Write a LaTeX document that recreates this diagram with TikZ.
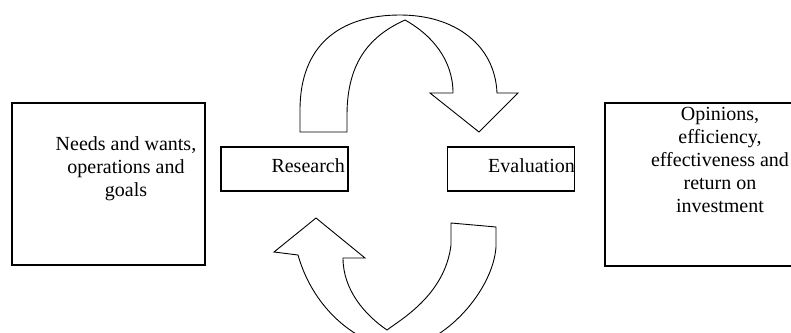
\documentclass[tikz,border=0pt]{standalone}
\usepackage{fontspec}
\setmainfont{Liberation Serif}
\usetikzlibrary{positioning}

\begin{document}
\begin{tikzpicture}[x=1pt, y=-1pt,
  font=\fontsize{20}{23}\selectfont,
  bigbox/.style={draw, line width=1.1pt, minimum width=193pt, minimum height=162pt, inner sep=0pt},
  smallbox/.style={draw, line width=1.1pt, minimum width=127pt, minimum height=44pt, inner sep=0pt},
  txt/.style={inner sep=0pt, align=center},
  bigarrow/.style={draw, fill=white, line width=0.9pt, line join=miter}]
\useasboundingbox (0,0) rectangle (791,332);
\clip (0,0) rectangle (791,332);
% boxes
\node[bigbox] (needs) at (108.5,184) {};
\node[bigbox, minimum width=195pt, minimum height=163pt] (opinions) at (702.5,184.5) {};
\node[smallbox] (research) at (284.5,169) {};
\node[smallbox, right=98pt of research] (evaluation) {};
% texts
\node[txt, anchor=north] (needstext) at (126,136.5) {Needs and wants,\\operations and\\goals};
\node[txt, anchor=north] (opiniontext) at (720,107.5) {Opinions,\\efficiency,\\effectiveness and\\return on\\investment};
\node[txt, anchor=base east] (researchtext) at (345,172) {Research};
\node[txt, anchor=base east] (evaltext) at (575,172) {Evaluation};
% curved arrow over the top
\draw[bigarrow] (300,132) -- (347,132) -- (347,115)
  .. controls (347,60) and (372,35) .. (405,20)
  .. controls (432,35) and (453,60) .. (453,93)
  -- (430,93) -- (479,132) -- (518,93) -- (497,93)
  .. controls (495,45) and (455,15) .. (400,15)
  .. controls (340,15) and (300,45) .. (300,110) -- cycle;
% curved arrow underneath
\draw[bigarrow] (451,223) -- (496,227) -- (496,247)
  .. controls (493,290) and (445,345) .. (400,348)
  .. controls (365,348) and (315,315) .. (298,255)
  -- (274,252) -- (316,218) -- (365,258) -- (343,258)
  .. controls (343,290) and (365,315) .. (387,330)
  .. controls (400,320) and (445,295) .. (451,245) -- cycle;
\end{tikzpicture}
\end{document}
